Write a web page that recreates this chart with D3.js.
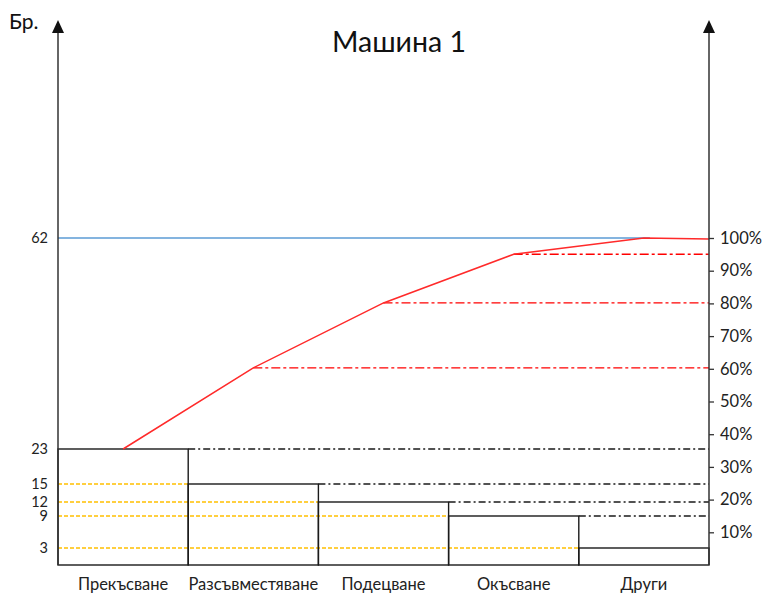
<!DOCTYPE html>
<html><head><meta charset="utf-8">
<script src="https://cdn.jsdelivr.net/npm/d3@7"></script>
<style>body{margin:0;background:#fff}svg{display:block;font-family:Lato,"Liberation Sans",sans-serif}</style>
</head><body><div id="c"></div>
<script>
const categories = ["Прекъсване","Разсъвместяване","Подецване","Окъсване","Други"];
const counts = [23,15,12,9,3];
const leftTicks = [3,9,12,15,23,62];
const pctTicks = [10,20,30,40,50,60,70,80,90,100];
const title = "Машина 1";
const yLabel = "Бр.";

const W=764,H=594, x0=58, x1=709, yBase=565, yTop=238;
const svg=d3.select("#c").append("svg").attr("width",W).attr("height",H);

const x=d3.scaleBand().domain(categories).range([x0,x1]).padding(0);
// drawn (non-uniform) count axis as in the original
const yL=d3.scaleLinear().domain([0,...leftTicks]).range([565,548,516,502,484,449,238]);
const yR=d3.scaleLinear().domain([0,100]).range([yBase,yTop]);

const total=d3.sum(counts);
let acc=0; const cum=counts.map(v=>acc+=v);

// yellow dashed lines from left axis to bar edge
counts.forEach((v,i)=>{ if(i===0) return;
  svg.append("line").attr("x1",x0).attr("x2",x(categories[i-1])+x.bandwidth())
   .attr("y1",yL(v)).attr("y2",yL(v)).attr("stroke","#ffc000").attr("stroke-width",1.5).attr("stroke-dasharray","4,2");
});
// black dash-dot from bar tops to right axis
counts.forEach((v,i)=>{ if(i===counts.length-1) return;
  svg.append("line").attr("x1",x(categories[i])+x.bandwidth()).attr("x2",x1)
   .attr("y1",yL(v)).attr("y2",yL(v)).attr("stroke","#1a1a1a").attr("stroke-width",1.3).attr("stroke-dasharray","7,3,2,3");
});
// bars
svg.selectAll("rect.bar").data(counts).join("rect").attr("class","bar")
 .attr("x",(d,i)=>x(categories[i])).attr("width",x.bandwidth())
 .attr("y",d=>yL(d)).attr("height",d=>yBase-yL(d))
 .attr("fill","none").attr("stroke","#1a1a1a").attr("stroke-width",1.4);

// blue total line
svg.append("line").attr("x1",x0).attr("x2",x(categories[4])+x.bandwidth()/2+6)
 .attr("y1",yL(total)).attr("y2",yL(total)).attr("stroke","#5b9bd5").attr("stroke-width",1.5);

// red dash-dot reference lines
cum.forEach((c,i)=>{ if(i<1||i>3) return;
  svg.append("line").attr("x1",x(categories[i])+x.bandwidth()/2).attr("x2",x1)
   .attr("y1",yL(c)).attr("y2",yL(c)).attr("stroke","#ff0000").attr("stroke-width",1.3).attr("stroke-dasharray","9,3,3,3");
});
// red cumulative line
const pts=cum.map((c,i)=>[x(categories[i])+x.bandwidth()/2, yL(c)]);
pts.push([x1, yR(100)+1]);
svg.append("path").attr("d",d3.line()(pts)).attr("fill","none").attr("stroke","#ff2a2a").attr("stroke-width",1.5);

// axes
const axisCol="#333";
[x0,x1].forEach(ax=>{
  svg.append("line").attr("x1",ax).attr("x2",ax).attr("y1",yBase).attr("y2",30).attr("stroke",axisCol).attr("stroke-width",1.5);
  svg.append("path").attr("d",`M${ax},20L${ax-6},33L${ax+6},33Z`).attr("fill","#111");
});
// left labels
svg.selectAll("text.yl").data(leftTicks).join("text").attr("class","yl")
 .attr("x",48).attr("y",d=>yL(d)).attr("dy","0.36em").attr("text-anchor","end")
 .attr("font-size",14.5).attr("fill","#222").text(d=>d);
// right axis ticks & labels
const gR=svg.append("g").attr("transform",`translate(${x1},0)`)
 .call(d3.axisRight(yR).tickValues(pctTicks).tickSize(5).tickPadding(6).tickFormat(d=>d+"%"));
gR.select(".domain").remove();
gR.selectAll(".tick line").attr("stroke",axisCol).attr("stroke-width",1.3);
gR.selectAll(".tick text").attr("font-size",16.5).attr("fill","#222").attr("font-family","Lato,'Liberation Sans',sans-serif");

// category labels
svg.selectAll("text.cat").data(categories).join("text").attr("class","cat")
 .attr("x",d=>x(d)+x.bandwidth()/2).attr("y",590).attr("text-anchor","middle")
 .attr("font-size",16.5).attr("fill","#222").text(d=>d);

svg.append("text").attr("x",399).attr("y",52).attr("text-anchor","middle").attr("font-size",28.5).attr("fill","#111").text(title);
svg.append("text").attr("x",9).attr("y",29).attr("font-size",21).attr("fill","#111").text(yLabel);
</script></body></html>
